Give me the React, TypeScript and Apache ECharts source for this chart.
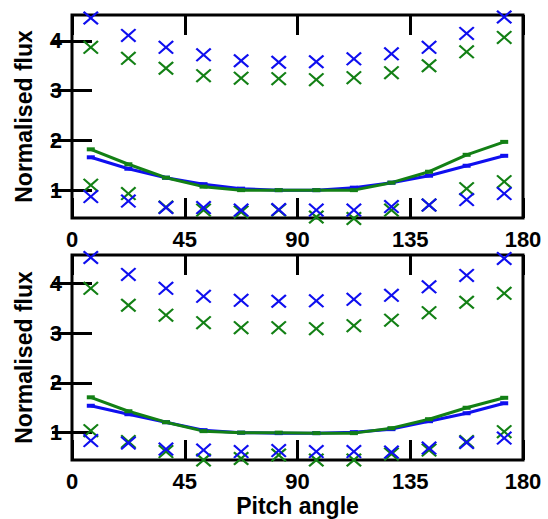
import React, { useEffect, useRef } from "react";
import * as echarts from "echarts";

const pitchAngles = [7.5, 22.5, 37.5, 52.5, 67.5, 82.5, 97.5, 112.5, 127.5, 142.5, 157.5, 172.5];
const xTickLabels = [0, 45, 90, 135, 180];
const yTickValues = [1, 2, 3, 4];

// Top panel
const blueHigh1 = [4.46, 4.11, 3.87, 3.72, 3.6, 3.57, 3.58, 3.64, 3.74, 3.87, 4.15, 4.48];
const greenHigh1 = [3.87, 3.65, 3.45, 3.3, 3.25, 3.24, 3.22, 3.26, 3.36, 3.5, 3.78, 4.07];
const blueLine1 = [1.66, 1.43, 1.25, 1.12, 1.03, 1.0, 1.0, 1.05, 1.15, 1.29, 1.49, 1.69];
const greenLine1 = [1.82, 1.52, 1.25, 1.07, 1.0, 1.0, 1.0, 1.0, 1.15, 1.37, 1.71, 1.97];
const blueLow1 = [0.87, 0.78, 0.65, 0.65, 0.6, 0.61, 0.6, 0.6, 0.67, 0.7, 0.81, 0.93];
const greenLow1 = [1.1, 0.93, 0.66, 0.6, 0.56, 0.6, 0.46, 0.43, 0.6, 0.7, 1.03, 1.17];

// Bottom panel
const blueHigh2 = [4.52, 4.18, 3.9, 3.74, 3.66, 3.64, 3.65, 3.68, 3.76, 3.93, 4.16, 4.5];
const greenHigh2 = [3.9, 3.56, 3.36, 3.21, 3.11, 3.11, 3.09, 3.15, 3.26, 3.41, 3.62, 3.8];
const blueLine2 = [1.54, 1.37, 1.21, 1.05, 1.0, 0.99, 0.99, 1.01, 1.07, 1.23, 1.39, 1.59];
const greenLine2 = [1.71, 1.43, 1.21, 1.03, 1.0, 1.0, 0.99, 0.99, 1.09, 1.27, 1.5, 1.7];
const blueLow2 = [0.84, 0.79, 0.67, 0.65, 0.62, 0.64, 0.62, 0.62, 0.61, 0.69, 0.8, 0.89];
const greenLow2 = [1.04, 0.82, 0.62, 0.45, 0.48, 0.55, 0.45, 0.45, 0.57, 0.65, 0.82, 1.02];

const BLUE = "#0f0fef";
const GREEN = "#138015";
const FONT = "'Liberation Sans', Arial, Helvetica, sans-serif";
const CROSS = "path://M0,1.4L1.4,0L7,5.6L12.6,0L14,1.4L8.4,7L14,12.6L12.6,14L7,8.4L1.4,14L0,12.6L5.6,7Z";

const pts = (vals: number[]) => pitchAngles.map((x, i) => [x, vals[i]]);

function buildOption() {
  const grids = [
    { left: 72, top: 15, width: 451, height: 203 },
    { left: 72, top: 255, width: 451, height: 205 },
  ];
  const yRanges = [
    [0.44, 4.52],
    [0.45, 4.57],
  ];
  const tick = { show: true, inside: true, length: 20, lineStyle: { color: "#000", width: 3 } };
  const xAxis: any[] = [];
  const yAxis: any[] = [];
  grids.forEach((_, g) => {
    xAxis.push({
      type: "value",
      gridIndex: g,
      min: 0,
      max: 180,
      interval: 45,
      position: "bottom",
      axisLine: { show: false },
      splitLine: { show: false },
      axisTick: tick,
      axisLabel: {
        show: true,
        margin: 10,
        color: "#000",
        fontSize: 22,
        fontWeight: "bold",
        fontFamily: FONT,
        customValues: xTickLabels,
      },
      name: g === 1 ? "Pitch angle" : "",
      nameLocation: "middle",
      nameGap: 34,
      nameMoveOverlap: false,
      nameTextStyle: { color: "#000", fontSize: 23, fontWeight: "bold", fontFamily: FONT },
    });
    xAxis.push({
      type: "value",
      gridIndex: g,
      min: 0,
      max: 180,
      interval: 45,
      position: "top",
      axisLine: { show: false },
      splitLine: { show: false },
      axisTick: tick,
      axisLabel: { show: false },
    });
    yAxis.push({
      type: "value",
      gridIndex: g,
      min: yRanges[g][0],
      max: yRanges[g][1],
      position: "left",
      axisLine: { show: false },
      splitLine: { show: false },
      axisTick: { ...tick, customValues: yTickValues },
      axisLabel: {
        show: true,
        margin: 10,
        color: "#000",
        fontSize: 22,
        fontWeight: "bold",
        fontFamily: FONT,
        customValues: yTickValues,
      },
      name: "Normalised flux",
      nameLocation: "middle",
      nameGap: 37,
      nameMoveOverlap: false,
      nameTextStyle: { color: "#000", fontSize: 23, fontWeight: "bold", fontFamily: FONT },
    });
    yAxis.push({
      type: "value",
      gridIndex: g,
      min: yRanges[g][0],
      max: yRanges[g][1],
      position: "right",
      axisLine: { show: false },
      splitLine: { show: false },
      axisTick: { ...tick, customValues: yTickValues },
      axisLabel: { show: false },
    });
  });

  const scatter = (vals: number[], color: string, g: number) => ({
    type: "scatter",
    xAxisIndex: g * 2,
    yAxisIndex: g * 2,
    data: pts(vals),
    symbol: CROSS,
    symbolSize: [16, 14],
    clip: false,
    itemStyle: { color, opacity: 1 },
    z: 3,
  });
  const line = (vals: number[], color: string, g: number) => ({
    type: "line",
    xAxisIndex: g * 2,
    yAxisIndex: g * 2,
    data: pts(vals),
    symbol: "rect",
    symbolSize: [8, 4],
    showSymbol: true,
    itemStyle: { color },
    lineStyle: { color, width: 3 },
    clip: false,
    z: 4,
  });

  const series: any[] = [
    scatter(greenHigh1, GREEN, 0),
    scatter(blueHigh1, BLUE, 0),
    scatter(greenLow1, GREEN, 0),
    scatter(blueLow1, BLUE, 0),
    line(blueLine1, BLUE, 0),
    line(greenLine1, GREEN, 0),
    scatter(greenHigh2, GREEN, 1),
    scatter(blueHigh2, BLUE, 1),
    scatter(greenLow2, GREEN, 1),
    scatter(blueLow2, BLUE, 1),
    line(blueLine2, BLUE, 1),
    line(greenLine2, GREEN, 1),
  ];

  return {
    animation: false,
    backgroundColor: "#fff",
    grid: grids.map((g) => ({ ...g, show: true, borderColor: "#000", borderWidth: 3, backgroundColor: "transparent" })),
    xAxis,
    yAxis,
    series,
  };
}

export default function App() {
  const ref = useRef<HTMLDivElement>(null);
  useEffect(() => {
    if (!ref.current) return;
    const chart = echarts.init(ref.current, undefined, { renderer: "svg" });
    chart.setOption(buildOption() as any);
    return () => chart.dispose();
  }, []);
  return (
    <div
      ref={ref}
      style={{ position: "fixed", left: 0, top: 0, width: 548, height: 519, background: "#fff" }}
    />
  );
}
